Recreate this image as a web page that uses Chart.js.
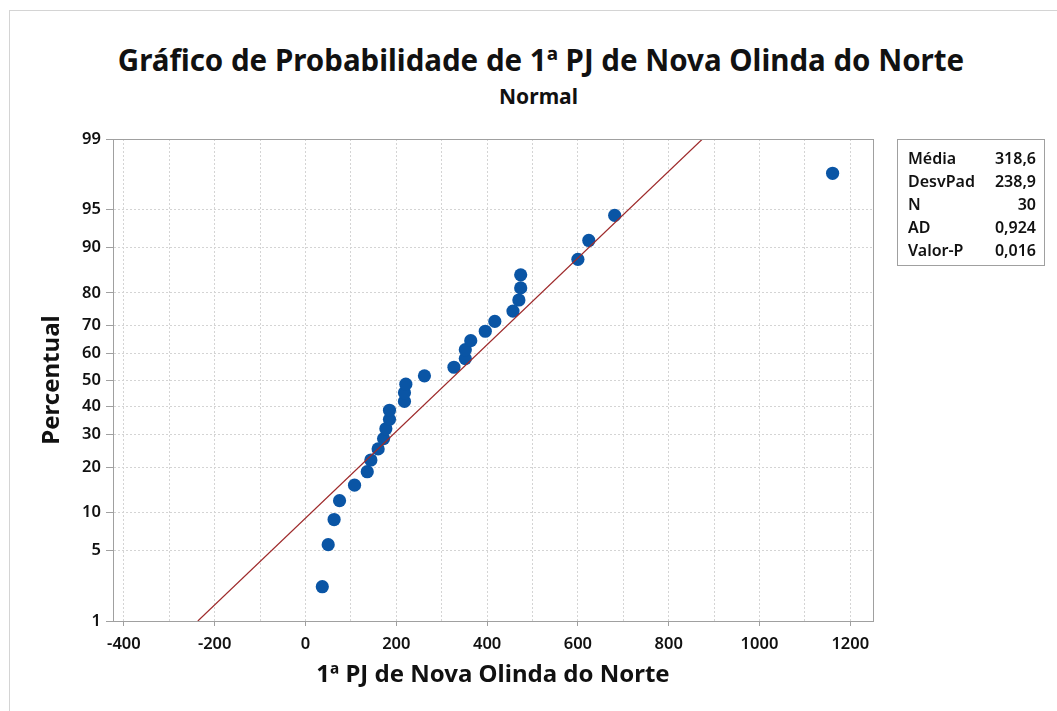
<!DOCTYPE html>
<html>
<head>
<meta charset="utf-8">
<script src="https://cdn.jsdelivr.net/npm/chart.js@4.4.1/dist/chart.umd.min.js"></script>
<style>
    body { margin: 0; background: #fff; }
    #wrap { position: relative; width: 1057px; height: 711px; overflow: hidden; font-family: 'Noto Sans', sans-serif; color: #111; }
    #frame { position: absolute; left: 9px; top: 10px; width: 1200px; height: 900px; border: 1px solid #d4d4d4; }
    #title { position: absolute; left: 0; width: 1082px; top: 39px; text-align: center; font-size: 29.5px; font-weight: 700; }
    #subtitle { position: absolute; left: 0; width: 1077px; top: 82px; text-align: center; font-size: 21px; font-weight: 700; }
    #stats { position: absolute; left: 897px; top: 139px; width: 148px; height: 127px; border: 1px solid #a0a0a0; box-sizing: border-box; padding: 7px 8px 0 10px; font-size: 16px; font-weight: 600; }
    #stats div { display: flex; justify-content: space-between; height: 23px; line-height: 23px; }
    canvas { position: absolute; left: 0; top: 0; }
</style>
</head>
<body>
<div id="wrap">
    <div id="frame"></div>
    <div id="title">Gráfico de Probabilidade de 1ª PJ de Nova Olinda do Norte</div>
    <div id="subtitle">Normal</div>
    <canvas id="chart" width="1057" height="711"></canvas>
    <div id="stats"></div>
</div>
<script>
// observed values, sorted
const pjValues = [37, 50, 63, 75, 108, 136, 144, 160, 172, 177, 185, 185, 218, 218, 221,
    262, 327, 352, 352, 364, 396, 417, 457, 470, 474, 474, 600, 624, 681, 1161];
// plotted percentiles (median ranks)
const percentiles = [2.3, 5.6, 8.9, 12.2, 15.5, 18.8, 22.0, 25.3, 28.6, 31.9, 35.2, 38.5, 41.8, 45.1, 48.4,
    51.6, 54.9, 58.2, 61.5, 64.8, 68.1, 71.4, 74.7, 78.0, 81.3, 84.5, 87.8, 91.1, 94.4, 97.7];
const percentTicks = [1, 5, 10, 20, 30, 40, 50, 60, 70, 80, 90, 95, 99];
const statLabels = ['Média', 'DesvPad', 'N', 'AD', 'Valor-P'];
const statValues = ['318,6', '238,9', '30', '0,924', '0,016'];
const mean = 318.6;
const stdev = 238.9;

// inverse normal cdf (Acklam)
function probit(p) {
    const a = [-39.69683028665376, 220.9460984245205, -275.9285104469687, 138.3577518672690, -30.66479806614716, 2.506628277459239];
    const b = [-54.47609879822406, 161.5858368580409, -155.6989798598866, 66.80131188771972, -13.28068155288572];
    const c = [-0.007784894002430293, -0.3223964580411365, -2.400758277161838, -2.549732539343734, 4.374664141464968, 2.938163982698783];
    const d = [0.007784695709041462, 0.3224671290700398, 2.445134137142996, 3.754408661907416];
    const pl = 0.02425;
    let q, r;
    if (p < pl) {
        q = Math.sqrt(-2 * Math.log(p));
        return (((((c[0]*q+c[1])*q+c[2])*q+c[3])*q+c[4])*q+c[5]) / ((((d[0]*q+d[1])*q+d[2])*q+d[3])*q+1);
    }
    if (p > 1 - pl) {
        q = Math.sqrt(-2 * Math.log(1 - p));
        return -(((((c[0]*q+c[1])*q+c[2])*q+c[3])*q+c[4])*q+c[5]) / ((((d[0]*q+d[1])*q+d[2])*q+d[3])*q+1);
    }
    q = p - 0.5;
    r = q * q;
    return (((((a[0]*r+a[1])*r+a[2])*r+a[3])*r+a[4])*r+a[5])*q / (((((b[0]*r+b[1])*r+b[2])*r+b[3])*r+b[4])*r+1);
}

// normal probability axis: percent values placed by their z-score
class ProbabilityScale extends Chart.LinearScale {
    static id = 'probability';
    static defaults = {};
    determineDataLimits() {
        this.min = this.options.min;
        this.max = this.options.max;
    }
    buildTicks() {
        return percentTicks.map(v => ({ value: v }));
    }
    configure() {
        super.configure();
        this._zMin = probit(this.min / 100);
        this._zMax = probit(this.max / 100);
    }
    getPixelForValue(value) {
        const z = probit(value / 100);
        return this.getPixelForDecimal((z - this._zMin) / (this._zMax - this._zMin));
    }
    getValueForPixel(pixel) {
        const z = this._zMin + this.getDecimalForPixel(pixel) * (this._zMax - this._zMin);
        return z;
    }
}
Chart.register(ProbabilityScale);

document.getElementById('stats').innerHTML = statLabels
    .map((l, i) => `<div><span>${l}</span><span>${statValues[i]}</span></div>`).join('');

const plotFrame = {
    id: 'plotFrame',
    afterDraw(chart) {
        const { ctx, chartArea: a } = chart;
        ctx.save();
        ctx.strokeStyle = '#a0a0a0';
        ctx.lineWidth = 1;
        ctx.strokeRect(a.left + 0.5, a.top + 0.5, a.right - a.left, a.bottom - a.top);
        ctx.restore();
    }
};

const tickFont = { family: 'Noto Sans', size: 16.5, weight: '600' };
const titleFont = { family: 'Noto Sans', size: 24, weight: '700' };

const points = pjValues.map((v, i) => ({ x: v, y: percentiles[i] }));
const fitLine = [1, 99].map(p => ({ x: mean + stdev * probit(p / 100), y: p }));

new Chart(document.getElementById('chart'), {
    type: 'scatter',
    data: {
        datasets: [{
            label: 'Ajuste',
            data: fitLine,
            showLine: true,
            borderColor: '#9e2a2b',
            borderWidth: 1.2,
            pointRadius: 0
        }, {
            label: '1ª PJ de Nova Olinda do Norte',
            data: points,
            backgroundColor: '#0a55a5',
            borderColor: '#0a55a5',
            borderWidth: 0,
            pointRadius: 6.6
        }]
    },
    options: {
        responsive: false,
        animation: false,
        layout: { padding: { left: 0, top: 139, right: 184, bottom: 0 } },
        plugins: {
            legend: { display: false },
            tooltip: { enabled: false }
        },
        scales: {
            x: {
                type: 'linear',
                min: -424,
                max: 1250,
                afterBuildTicks: scale => {
                    const t = [];
                    for (let v = -400; v <= 1200; v += 100) t.push({ value: v });
                    scale.ticks = t;
                },
                afterFit: scale => { scale.height = 90; },
                ticks: {
                    autoSkip: false,
                    maxRotation: 0,
                    padding: 8,
                    color: '#111',
                    font: tickFont,
                    callback: v => (v % 200 === 0 ? String(v) : '')
                },
                grid: {
                    color: '#d4d4d4',
                    tickLength: 5,
                    tickColor: ctx => (ctx.tick && ctx.tick.value % 200 === 0 ? '#a0a0a0' : 'rgba(0,0,0,0)')
                },
                border: { display: true, color: '#a0a0a0', dash: [2, 2] },
                title: {
                    display: true,
                    text: '1ª PJ de Nova Olinda do Norte',
                    color: '#111',
                    font: titleFont,
                    padding: { top: 0, bottom: 21 }
                }
            },
            y: {
                type: 'probability',
                min: 1,
                max: 99,
                afterFit: scale => { scale.width = 113; },
                ticks: {
                    autoSkip: false,
                    padding: 5,
                    color: '#111',
                    font: tickFont,
                    callback: v => String(v)
                },
                grid: {
                    color: '#d4d4d4',
                    tickLength: 7,
                    tickColor: '#a0a0a0'
                },
                border: { display: true, color: '#a0a0a0', dash: [2, 2] },
                title: {
                    display: true,
                    text: 'Percentual',
                    color: '#111',
                    font: titleFont,
                    padding: { top: 38, bottom: 0 }
                }
            }
        }
    },
    plugins: [plotFrame]
});
</script>
</body>
</html>
